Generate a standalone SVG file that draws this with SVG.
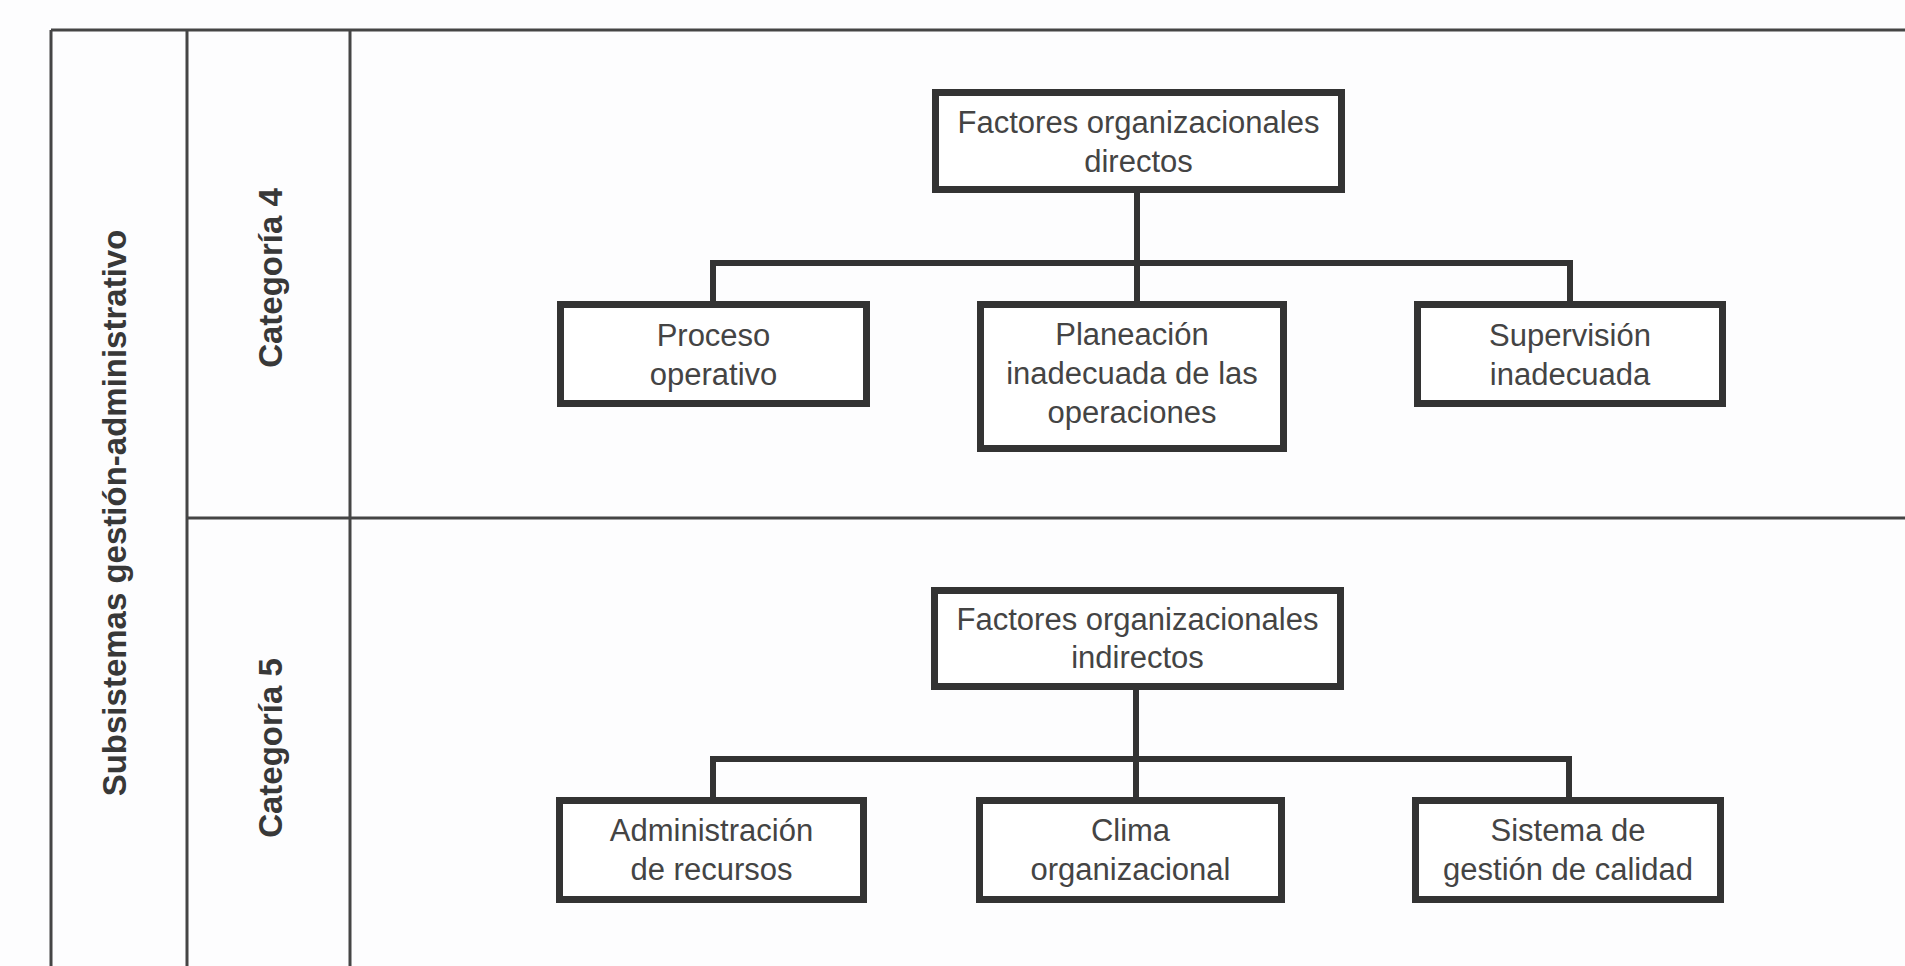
<svg xmlns="http://www.w3.org/2000/svg" width="1905" height="966" viewBox="0 0 1905 966">
  <style>
    .grid { stroke: #454545; stroke-width: 3; fill: none; }
    .box { fill: #ffffff; stroke: #333333; stroke-width: 7; }
    .conn { stroke: #333333; stroke-width: 6; fill: none; }
    .lbl { font-family: "Liberation Sans", Arial, sans-serif; font-size: 31px; fill: #444444; text-anchor: middle; }
    .head { font-family: "Liberation Sans", Arial, sans-serif; font-size: 33px; font-weight: bold; fill: #383838; text-anchor: middle; }
  </style>
  <rect x="0" y="0" width="1905" height="966" fill="#fdfdfe"/>

  <g id="grid">
    <line class="grid" x1="51" y1="30" x2="1905" y2="30"/>
    <line class="grid" x1="51" y1="30" x2="51" y2="966"/>
    <line class="grid" x1="187" y1="30" x2="187" y2="966"/>
    <line class="grid" x1="350" y1="30" x2="350" y2="966"/>
    <line class="grid" x1="187" y1="518" x2="1905" y2="518"/>
  </g>

  <g id="headers">
    <text class="head" transform="translate(126,513) rotate(-90)">Subsistemas gestión-administrativo</text>
    <text class="head" transform="translate(282,278) rotate(-90)">Categoría 4</text>
    <text class="head" transform="translate(282,748) rotate(-90)">Categoría 5</text>
  </g>

  <g id="connectors">
    <path class="conn" d="M1137,193 V301 M713,301 V263 H1570 V301"/>
    <path class="conn" d="M1136,690 V797 M713,797 V759 H1569 V797"/>
  </g>

  <g id="node-factores-directos">
    <rect class="box" x="935.5" y="92.5" width="406" height="97"/>
    <text class="lbl" x="1138.5" y="133">Factores organizacionales</text>
    <text class="lbl" x="1138.5" y="172">directos</text>
  </g>

  <g id="node-proceso">
    <rect class="box" x="560.5" y="304.5" width="306" height="99"/>
    <text class="lbl" x="713.5" y="346">Proceso</text>
    <text class="lbl" x="713.5" y="385">operativo</text>
  </g>

  <g id="node-planeacion">
    <rect class="box" x="980.5" y="304.5" width="303" height="144"/>
    <text class="lbl" x="1132" y="345">Planeación</text>
    <text class="lbl" x="1132" y="384">inadecuada de las</text>
    <text class="lbl" x="1132" y="423">operaciones</text>
  </g>

  <g id="node-supervision">
    <rect class="box" x="1417.5" y="304.5" width="305" height="99"/>
    <text class="lbl" x="1570" y="346">Supervisión</text>
    <text class="lbl" x="1570" y="385">inadecuada</text>
  </g>

  <g id="node-factores-indirectos">
    <rect class="box" x="934.5" y="590.5" width="406" height="96"/>
    <text class="lbl" x="1137.5" y="630">Factores organizacionales</text>
    <text class="lbl" x="1137.5" y="668">indirectos</text>
  </g>

  <g id="node-administracion">
    <rect class="box" x="559.5" y="800.5" width="304" height="99"/>
    <text class="lbl" x="711.5" y="841">Administración</text>
    <text class="lbl" x="711.5" y="880">de recursos</text>
  </g>

  <g id="node-clima">
    <rect class="box" x="979.5" y="800.5" width="302" height="99"/>
    <text class="lbl" x="1130.5" y="841">Clima</text>
    <text class="lbl" x="1130.5" y="880">organizacional</text>
  </g>

  <g id="node-sistema">
    <rect class="box" x="1415.5" y="800.5" width="305" height="99"/>
    <text class="lbl" x="1568" y="841">Sistema de</text>
    <text class="lbl" x="1568" y="880">gestión de calidad</text>
  </g>
</svg>
